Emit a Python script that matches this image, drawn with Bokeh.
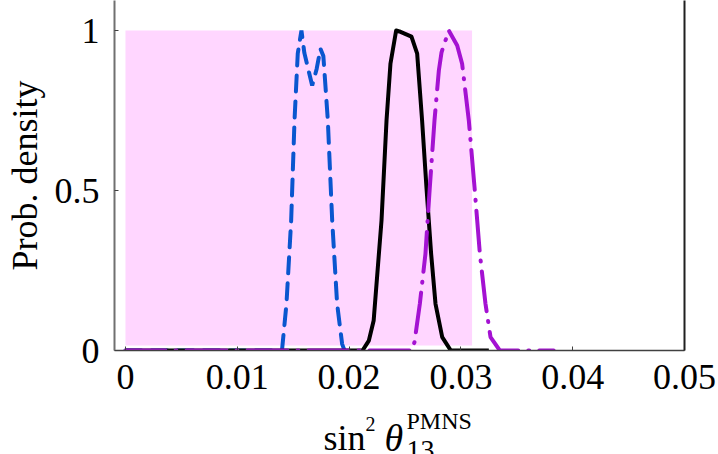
from bokeh.plotting import figure
from bokeh.models import Range1d, FixedTicker, LinearAxis
from bokeh.layouts import column
from bokeh.core.properties import value
from bokeh.embed import file_html
from bokeh.resources import INLINE

# ---- data ----
x_ticks = [0, 0.01, 0.02, 0.03, 0.04, 0.05]
x_tick_labels = ["0", "0.01", "0.02", "0.03", "0.04", "0.05"]
y_ticks = [0, 0.5, 1]
y_tick_labels = ["0", "0.5", "1"]
y_label = "Prob. density"

band_left = 0.0
band_right = 0.031
band_bottom = 0.0156
band_top = 1.0

blue_x = [0.0, 0.0140, 0.0144, 0.01482, 0.01512, 0.01541, 0.01574, 0.0160,
          0.0167, 0.0171, 0.01744, 0.0177, 0.0181, 0.01849, 0.01893, 0.01938, 0.0196, 0.0200]
blue_y = [0.0, 0.0, 0.146, 0.406, 0.719, 0.928, 1.0, 0.93,
          0.828, 0.88, 0.943, 0.92, 0.719, 0.406, 0.146, 0.02, 0.0, 0.0]

black_x = [0.0, 0.0212, 0.02177, 0.0222, 0.0229, 0.02335, 0.0237, 0.02421, 0.0245,
           0.02558, 0.02609, 0.02653, 0.02692, 0.02734, 0.02773, 0.02833, 0.0291, 0.0325]
black_y = [0.0, 0.0, 0.031, 0.094, 0.406, 0.719, 0.896, 1.0, 0.997,
           0.981, 0.928, 0.719, 0.51, 0.302, 0.146, 0.042, 0.0, 0.0]

purple_x = [0.0, 0.0256, 0.02585, 0.02633, 0.02683, 0.02722, 0.02764, 0.02803, 0.02827,
            0.02892, 0.02967, 0.03011, 0.03071, 0.03122, 0.0317, 0.0322, 0.03265, 0.03348, 0.0383]
purple_y = [0.0, 0.0, 0.026, 0.146, 0.302, 0.51, 0.719, 0.875, 0.932,
            1.0, 0.953, 0.896, 0.719, 0.51, 0.302, 0.146, 0.042, 0.0, 0.0]

SERIF = "Liberation Serif"

p = figure(frame_width=570, frame_height=350,
           min_border_left=114, min_border_right=32, min_border_top=0, min_border_bottom=58,
           x_range=Range1d(-0.00098, 0.05), y_range=Range1d(0, 1.09375),
           output_backend="svg", toolbar_location=None)
p.outline_line_color = None
p.grid.visible = False
p.background_fill_color = "white"
p.border_fill_color = "white"

# band
p.quad(left=[band_left], right=[band_right], bottom=[band_bottom], top=[band_top],
       fill_color="#FFD6FF", line_color=None)

p.line(blue_x, blue_y, line_color="#0A56CF", line_width=4, line_dash="16 10", line_cap="round")
p.line(black_x, black_y, line_color="black", line_width=4, line_join="round")
p.line(purple_x, purple_y, line_color="#A412D2", line_width=4, line_dash="40 10 1 10",
       line_cap="round")

# axes
xa = p.xaxis[0]
xa.ticker = FixedTicker(ticks=x_ticks)
xa.major_label_overrides = {t: l for t, l in zip(x_ticks, x_tick_labels)}
ya = p.yaxis[0]
ya.ticker = FixedTicker(ticks=y_ticks)
ya.major_label_overrides = {t: l for t, l in zip(y_ticks, y_tick_labels)}
for ax in (xa, ya):
    ax.major_tick_in = 4
    ax.major_tick_out = 0
    ax.minor_tick_line_color = None
    ax.major_label_text_font = SERIF
    ax.major_label_text_font_size = "36px"
    ax.major_label_text_color = "black"
xa.major_label_standoff = 14
xa.axis_line_color = "#404040"
xa.axis_line_width = 1.5
xa.major_tick_line_color = "#404040"
ya.axis_line_color = "#707070"
ya.axis_line_width = 2
ya.major_tick_line_color = "#404040"
ya.major_label_standoff = 15
ya.axis_label = y_label
ya.axis_label_text_font = SERIF
ya.axis_label_text_font_size = "36px"
ya.axis_label_text_font_style = "normal"
ya.axis_label_text_color = "black"
ya.axis_label_standoff = 7

ra = LinearAxis(ticker=FixedTicker(ticks=[]), axis_line_color="#202020", axis_line_width=2,
                major_tick_in=0, major_tick_out=0, minor_tick_line_color=None,
                major_label_text_font_size="0px")
p.add_layout(ra, "right")

# x axis title (sin^2 theta_13^PMNS) drawn in a strip below, in page pixel units
q = figure(frame_width=570, frame_height=46,
           min_border_left=114, min_border_right=32, min_border_top=0, min_border_bottom=0,
           x_range=Range1d(114, 684), y_range=Range1d(454, 408),
           x_axis_type=None, y_axis_type=None,
           output_backend="svg", toolbar_location=None)
q.outline_line_color = None
q.grid.visible = False
q.background_fill_color = "white"
q.border_fill_color = "white"

def lab(x, y, t, size, style="normal"):
    q.text(x=[x], y=[y], text=[t], text_align="left", text_baseline="alphabetic",
           text_font=value(SERIF), text_font_size=value(size),
           text_font_style=style, text_color="black")

lab(323, 437.5, "sin", "36px")
lab(365, 423, "2", "20px")
lab(384, 437.5, "θ", "38px", "italic")
lab(406, 449, "13", "28px")
lab(406, 420, "PMNS", "24px")

open("out.html", "w").write(file_html(column(p, q, spacing=0), INLINE))
